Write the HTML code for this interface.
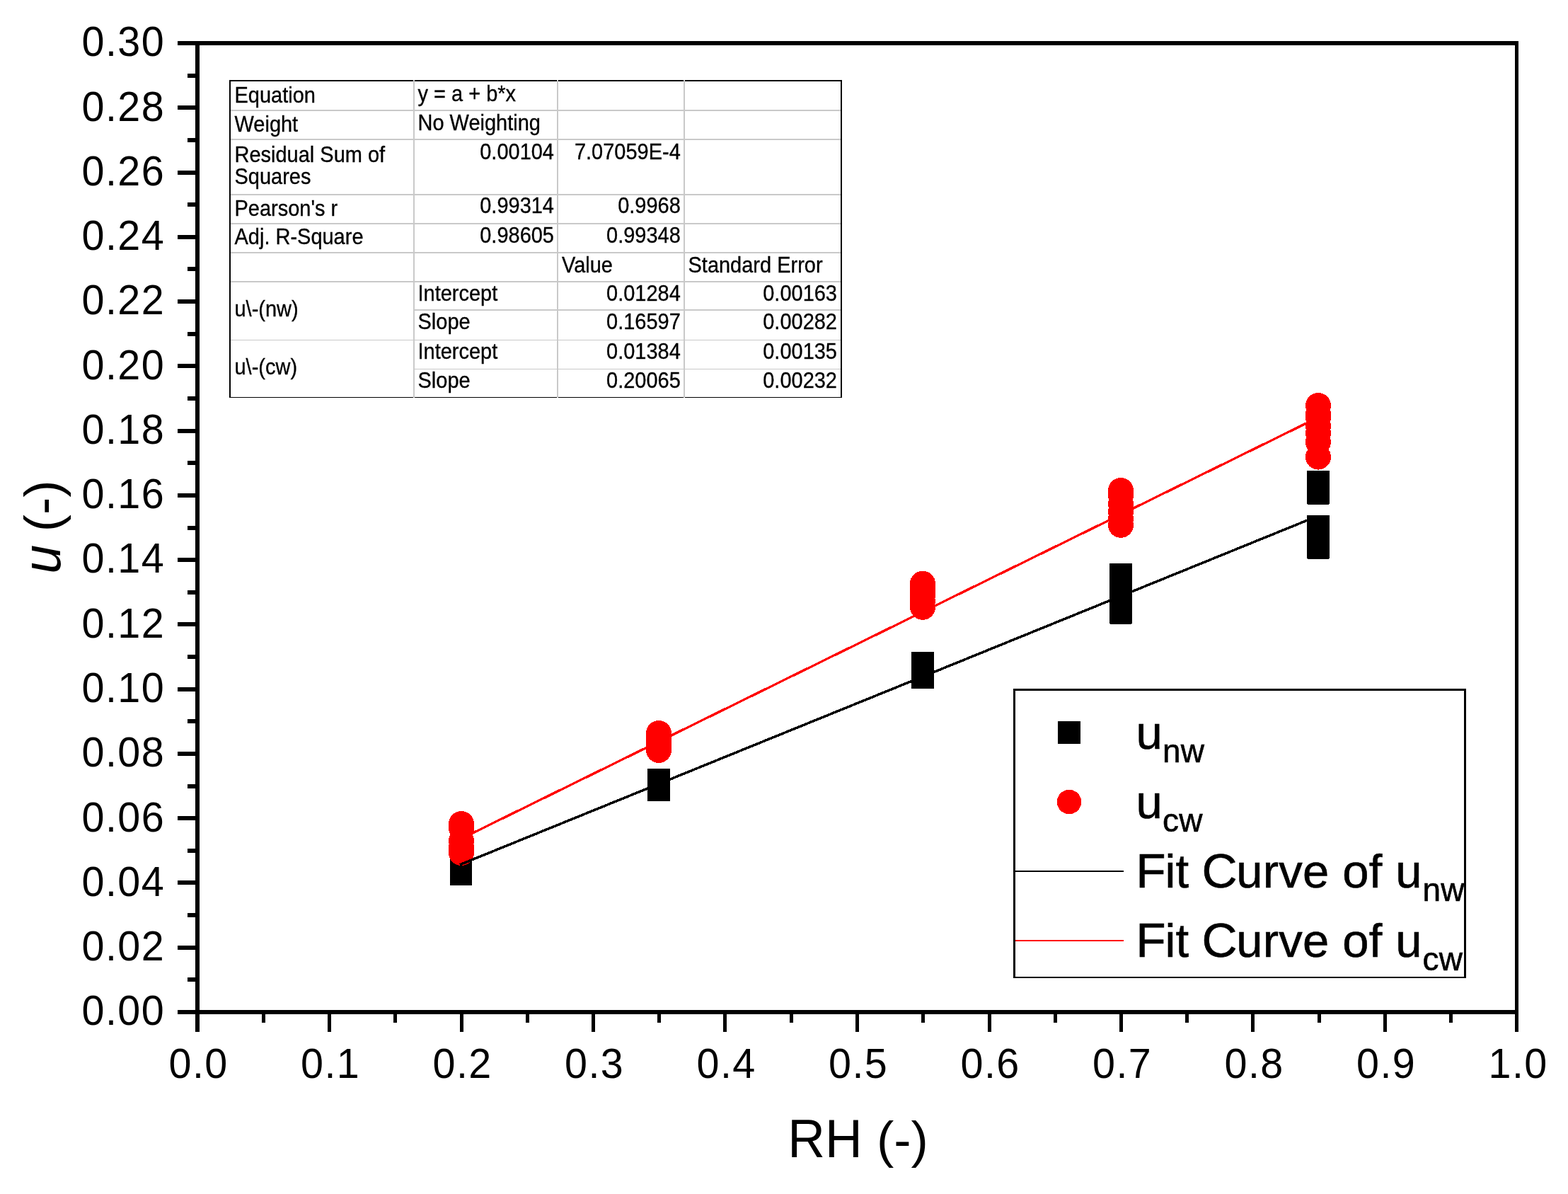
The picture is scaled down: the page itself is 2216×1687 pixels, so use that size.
<!DOCTYPE html>
<html lang="en"><head><meta charset="utf-8"><title>u vs RH</title>
<style>
html,body{margin:0;padding:0;background:#fff;}
body{width:2216px;height:1687px;overflow:hidden;}
svg{display:block;}
text{font-family:"Liberation Sans",sans-serif;fill:#000;}
.tk{font-size:57.5px;letter-spacing:1.4px;}
.tb{font-size:31px;stroke:#000;stroke-width:0.35px;}
.lg{font-size:67px;letter-spacing:0.2px;stroke:#000;stroke-width:0.6px;}
.cap{font-size:69.4px;}
.sub{font-size:46px;}
.ti{font-size:73px;}
</style></head><body>
<svg width="2216" height="1687" viewBox="0 0 2216 1687">
<rect x="0" y="0" width="2216" height="1687" fill="#fff"/>
<g fill="#000" shape-rendering="crispEdges">
<rect x="251" y="58" width="1895" height="6"/>
<rect x="251" y="1427" width="1895" height="6"/>
<rect x="276" y="58" width="6" height="1400"/>
<rect x="2141" y="58" width="5" height="1400"/>
<rect x="265" y="1381" width="12" height="6"/>
<rect x="251" y="1336" width="26" height="6"/>
<rect x="265" y="1290" width="12" height="6"/>
<rect x="251" y="1244" width="26" height="6"/>
<rect x="265" y="1199" width="12" height="6"/>
<rect x="251" y="1153" width="26" height="6"/>
<rect x="265" y="1108" width="12" height="6"/>
<rect x="251" y="1062" width="26" height="6"/>
<rect x="265" y="1016" width="12" height="6"/>
<rect x="251" y="971" width="26" height="6"/>
<rect x="265" y="925" width="12" height="6"/>
<rect x="251" y="879" width="26" height="6"/>
<rect x="265" y="834" width="12" height="6"/>
<rect x="251" y="788" width="26" height="6"/>
<rect x="265" y="743" width="12" height="6"/>
<rect x="251" y="697" width="26" height="6"/>
<rect x="265" y="651" width="12" height="6"/>
<rect x="251" y="606" width="26" height="6"/>
<rect x="265" y="560" width="12" height="6"/>
<rect x="251" y="514" width="26" height="6"/>
<rect x="265" y="469" width="12" height="6"/>
<rect x="251" y="423" width="26" height="6"/>
<rect x="265" y="377" width="12" height="6"/>
<rect x="251" y="332" width="26" height="6"/>
<rect x="265" y="286" width="12" height="6"/>
<rect x="251" y="241" width="26" height="6"/>
<rect x="265" y="195" width="12" height="6"/>
<rect x="251" y="149" width="26" height="6"/>
<rect x="265" y="104" width="12" height="6"/>
<rect x="370" y="1432" width="5" height="13"/>
<rect x="463" y="1432" width="5" height="26"/>
<rect x="556" y="1432" width="5" height="13"/>
<rect x="650" y="1432" width="5" height="26"/>
<rect x="743" y="1432" width="5" height="13"/>
<rect x="836" y="1432" width="5" height="26"/>
<rect x="929" y="1432" width="5" height="13"/>
<rect x="1022" y="1432" width="5" height="26"/>
<rect x="1116" y="1432" width="5" height="13"/>
<rect x="1209" y="1432" width="5" height="26"/>
<rect x="1302" y="1432" width="5" height="13"/>
<rect x="1396" y="1432" width="5" height="26"/>
<rect x="1489" y="1432" width="5" height="13"/>
<rect x="1582" y="1432" width="5" height="26"/>
<rect x="1675" y="1432" width="5" height="13"/>
<rect x="1768" y="1432" width="5" height="26"/>
<rect x="1862" y="1432" width="5" height="13"/>
<rect x="1955" y="1432" width="5" height="26"/>
<rect x="2048" y="1432" width="5" height="13"/>
</g>
<g class="tk">
<text transform="translate(115.6 1448.3) scale(1 1.03)">0.00</text>
<text transform="translate(115.6 1357.03) scale(1 1.03)">0.02</text>
<text transform="translate(115.6 1265.77) scale(1 1.03)">0.04</text>
<text transform="translate(115.6 1174.5) scale(1 1.03)">0.06</text>
<text transform="translate(115.6 1083.23) scale(1 1.03)">0.08</text>
<text transform="translate(115.6 991.97) scale(1 1.03)">0.10</text>
<text transform="translate(115.6 900.7) scale(1 1.03)">0.12</text>
<text transform="translate(115.6 809.43) scale(1 1.03)">0.14</text>
<text transform="translate(115.6 718.17) scale(1 1.03)">0.16</text>
<text transform="translate(115.6 626.9) scale(1 1.03)">0.18</text>
<text transform="translate(115.6 535.63) scale(1 1.03)">0.20</text>
<text transform="translate(115.6 444.37) scale(1 1.03)">0.22</text>
<text transform="translate(115.6 353.1) scale(1 1.03)">0.24</text>
<text transform="translate(115.6 261.83) scale(1 1.03)">0.26</text>
<text transform="translate(115.6 170.57) scale(1 1.03)">0.28</text>
<text transform="translate(115.6 79.3) scale(1 1.03)">0.30</text>
<text transform="translate(238.6 1523) scale(1 1.03)">0.0</text>
<text transform="translate(425.1 1523) scale(1 1.03)">0.1</text>
<text transform="translate(611.6 1523) scale(1 1.03)">0.2</text>
<text transform="translate(798.1 1523) scale(1 1.03)">0.3</text>
<text transform="translate(984.6 1523) scale(1 1.03)">0.4</text>
<text transform="translate(1171.1 1523) scale(1 1.03)">0.5</text>
<text transform="translate(1357.6 1523) scale(1 1.03)">0.6</text>
<text transform="translate(1544.1 1523) scale(1 1.03)">0.7</text>
<text transform="translate(1730.6 1523) scale(1 1.03)">0.8</text>
<text transform="translate(1917.1 1523) scale(1 1.03)">0.9</text>
<text transform="translate(2103.6 1523) scale(1 1.03)">1.0</text>
</g>
<text class="ti" transform="translate(1113.3 1635) scale(1 1.04)">RH</text>
<text class="ti" x="1239" y="1635">(-)</text>
<text class="ti" transform="translate(85 810.6) rotate(-90) scale(1 1.05)" font-style="italic">u</text>
<text class="ti" transform="translate(84.5 751.3) rotate(-90)">(-)</text>
<g fill="#000" shape-rendering="crispEdges">
<rect x="636" y="1204" width="31" height="32" rx="1"/>
<rect x="636" y="1212" width="31" height="32" rx="1"/>
<rect x="636" y="1218.8" width="31" height="32" rx="1"/>
<rect x="915" y="1086" width="32" height="32" rx="1"/>
<rect x="915" y="1093" width="32" height="32" rx="1"/>
<rect x="915" y="1100" width="32" height="32" rx="1"/>
<rect x="1288" y="921.3" width="32" height="32" rx="1"/>
<rect x="1288" y="931" width="32" height="32" rx="1"/>
<rect x="1288" y="940.8" width="32" height="32" rx="1"/>
<rect x="1568" y="796.3" width="32" height="32" rx="1"/>
<rect x="1568" y="809" width="32" height="32" rx="1"/>
<rect x="1568" y="822" width="32" height="32" rx="1"/>
<rect x="1568" y="836" width="32" height="32" rx="1"/>
<rect x="1568" y="849.5" width="32" height="32" rx="1"/>
<rect x="1847" y="665" width="32" height="32" rx="1"/>
<rect x="1847" y="673" width="32" height="32" rx="1"/>
<rect x="1847" y="680.6" width="32" height="32" rx="1"/>
<rect x="1847" y="728" width="32" height="32" rx="1"/>
<rect x="1847" y="738" width="32" height="32" rx="1"/>
<rect x="1847" y="748" width="32" height="32" rx="1"/>
<rect x="1847" y="757.5" width="32" height="32" rx="1"/>
</g>
<g fill="#ff0000" shape-rendering="crispEdges">
<circle cx="652" cy="1163.9" r="18"/>
<circle cx="652" cy="1170" r="18"/>
<circle cx="652" cy="1188.4" r="18"/>
<circle cx="652" cy="1197" r="18"/>
<circle cx="652" cy="1205.1" r="18"/>
<circle cx="931" cy="1035.9" r="18"/>
<circle cx="931" cy="1043.9" r="18"/>
<circle cx="931" cy="1051.9" r="18"/>
<circle cx="931" cy="1059.9" r="18"/>
<circle cx="1304" cy="824.6" r="18"/>
<circle cx="1304" cy="832.9" r="18"/>
<circle cx="1304" cy="841.2" r="18"/>
<circle cx="1304" cy="849.5" r="18"/>
<circle cx="1304" cy="857.8" r="18"/>
<circle cx="1584" cy="692.9" r="18"/>
<circle cx="1584" cy="699.8" r="18"/>
<circle cx="1584" cy="711.8" r="18"/>
<circle cx="1584" cy="723" r="18"/>
<circle cx="1584" cy="733" r="18"/>
<circle cx="1584" cy="741.8" r="18"/>
<circle cx="1863" cy="573" r="18"/>
<circle cx="1863" cy="585" r="18"/>
<circle cx="1863" cy="590" r="18"/>
<circle cx="1863" cy="602" r="18"/>
<circle cx="1863" cy="611.7" r="18"/>
<circle cx="1863" cy="624.5" r="18"/>
<circle cx="1863" cy="645.6" r="18"/>
</g>
<g fill="none" shape-rendering="crispEdges">
<line x1="650" y1="1221.73" x2="1863" y2="728.84" stroke="#000" stroke-width="3.5"/>
<line x1="652" y1="1184.92" x2="1863" y2="589.76" stroke="#ff0000" stroke-width="3.3"/>
</g>
<g shape-rendering="crispEdges">
<rect x="325" y="114" width="864" height="447" fill="#fff"/>
<rect x="324" y="113" width="866" height="2" fill="#000"/>
<rect x="324" y="560.5" width="866" height="1.5" fill="#000"/>
<rect x="324" y="113" width="2" height="449" fill="#000"/>
<rect x="1188" y="113" width="2" height="449" fill="#000"/>
<rect x="326" y="155" width="862" height="2" fill="#c9c9c9"/>
<rect x="326" y="196" width="862" height="2" fill="#c9c9c9"/>
<rect x="326" y="274" width="862" height="2" fill="#c9c9c9"/>
<rect x="326" y="315" width="862" height="2" fill="#c9c9c9"/>
<rect x="326" y="356" width="862" height="2" fill="#c9c9c9"/>
<rect x="326" y="397" width="862" height="2" fill="#c9c9c9"/>
<rect x="585" y="437" width="603" height="2" fill="#c9c9c9"/>
<rect x="326" y="479.5" width="862" height="1" fill="#c9c9c9"/>
<rect x="585" y="520.5" width="603" height="1" fill="#c9c9c9"/>
<rect x="584" y="113" width="2" height="449" fill="#c9c9c9"/>
<rect x="787" y="113" width="2" height="449" fill="#c9c9c9"/>
<rect x="966" y="113" width="2" height="449" fill="#c9c9c9"/>
</g>
<g class="tb">
<text transform="translate(331.5 144.8) scale(0.935 1)">Equation</text>
<text transform="translate(331.5 185.8) scale(0.935 1)">Weight</text>
<text transform="translate(331.5 228.9) scale(0.935 1)">Residual Sum of</text>
<text transform="translate(331.5 260.1) scale(0.935 1)">Squares</text>
<text transform="translate(331.5 304.5) scale(0.935 1)">Pearson's r</text>
<text transform="translate(331.5 344.7) scale(0.935 1)">Adj. R-Square</text>
<text transform="translate(331.5 447.3) scale(0.935 1)">u\-(nw)</text>
<text transform="translate(331.5 529.3) scale(0.935 1)">u\-(cw)</text>
<text transform="translate(590.5 142.8) scale(0.935 1)">y = a + b*x</text>
<text transform="translate(590.5 183.6) scale(0.935 1)">No Weighting</text>
<text transform="translate(590.5 424.8) scale(0.935 1)">Intercept</text>
<text transform="translate(590.5 465.4) scale(0.935 1)">Slope</text>
<text transform="translate(590.5 506.6) scale(0.935 1)">Intercept</text>
<text transform="translate(590.5 547.8) scale(0.935 1)">Slope</text>
<text transform="translate(783 224.8) scale(0.935 1)" text-anchor="end">0.00104</text>
<text transform="translate(783 301.2) scale(0.935 1)" text-anchor="end">0.99314</text>
<text transform="translate(783 342.7) scale(0.935 1)" text-anchor="end">0.98605</text>
<text transform="translate(961.8 224.6) scale(0.935 1)" text-anchor="end">7.07059E-4</text>
<text transform="translate(961.8 301.2) scale(0.935 1)" text-anchor="end">0.9968</text>
<text transform="translate(961.8 342.7) scale(0.935 1)" text-anchor="end">0.99348</text>
<text transform="translate(961.8 424.8) scale(0.935 1)" text-anchor="end">0.01284</text>
<text transform="translate(961.8 465.4) scale(0.935 1)" text-anchor="end">0.16597</text>
<text transform="translate(961.8 506.6) scale(0.935 1)" text-anchor="end">0.01384</text>
<text transform="translate(961.8 547.8) scale(0.935 1)" text-anchor="end">0.20065</text>
<text transform="translate(794 384.6) scale(0.935 1)">Value</text>
<text transform="translate(972.5 384.6) scale(0.935 1)">Standard Error</text>
<text transform="translate(1183 424.8) scale(0.935 1)" text-anchor="end">0.00163</text>
<text transform="translate(1183 465.4) scale(0.935 1)" text-anchor="end">0.00282</text>
<text transform="translate(1183 506.6) scale(0.935 1)" text-anchor="end">0.00135</text>
<text transform="translate(1183 547.8) scale(0.935 1)" text-anchor="end">0.00232</text>
</g>
<g shape-rendering="crispEdges">
<rect x="1432" y="973" width="640" height="409" fill="#fff"/>
<rect x="1432" y="973" width="640" height="3" fill="#000"/>
<rect x="1432" y="1380" width="640" height="2" fill="#000"/>
<rect x="1432" y="973" width="3" height="409" fill="#000"/>
<rect x="2069" y="973" width="3" height="409" fill="#000"/>
<rect x="1495" y="1019" width="32" height="32" rx="1.5" fill="#000"/>
<circle cx="1511" cy="1133" r="17.2" fill="#ff0000"/>
<rect x="1435" y="1230" width="153" height="2" fill="#000"/>
<rect x="1435" y="1328" width="153" height="2" fill="#ff0000"/>
</g>
<g class="lg">
<text x="1605.5" y="1058">u<tspan class="sub" dy="18.5">nw</tspan></text>
<text x="1605.5" y="1156">u<tspan class="sub" dy="18.5">cw</tspan></text>
<text x="1605.3" y="1254"><tspan class="cap">F</tspan><tspan dx="-1.4">it </tspan><tspan class="cap" dx="-0.6">C</tspan><tspan dx="-1.6">urve of u</tspan><tspan class="sub" dy="18.5" dx="0.6">nw</tspan></text>
<text x="1605.3" y="1352"><tspan class="cap">F</tspan><tspan dx="-1.4">it </tspan><tspan class="cap" dx="-0.6">C</tspan><tspan dx="-1.6">urve of u</tspan><tspan class="sub" dy="18.5" dx="0.6">cw</tspan></text>
</g>
</svg>
</body></html>
